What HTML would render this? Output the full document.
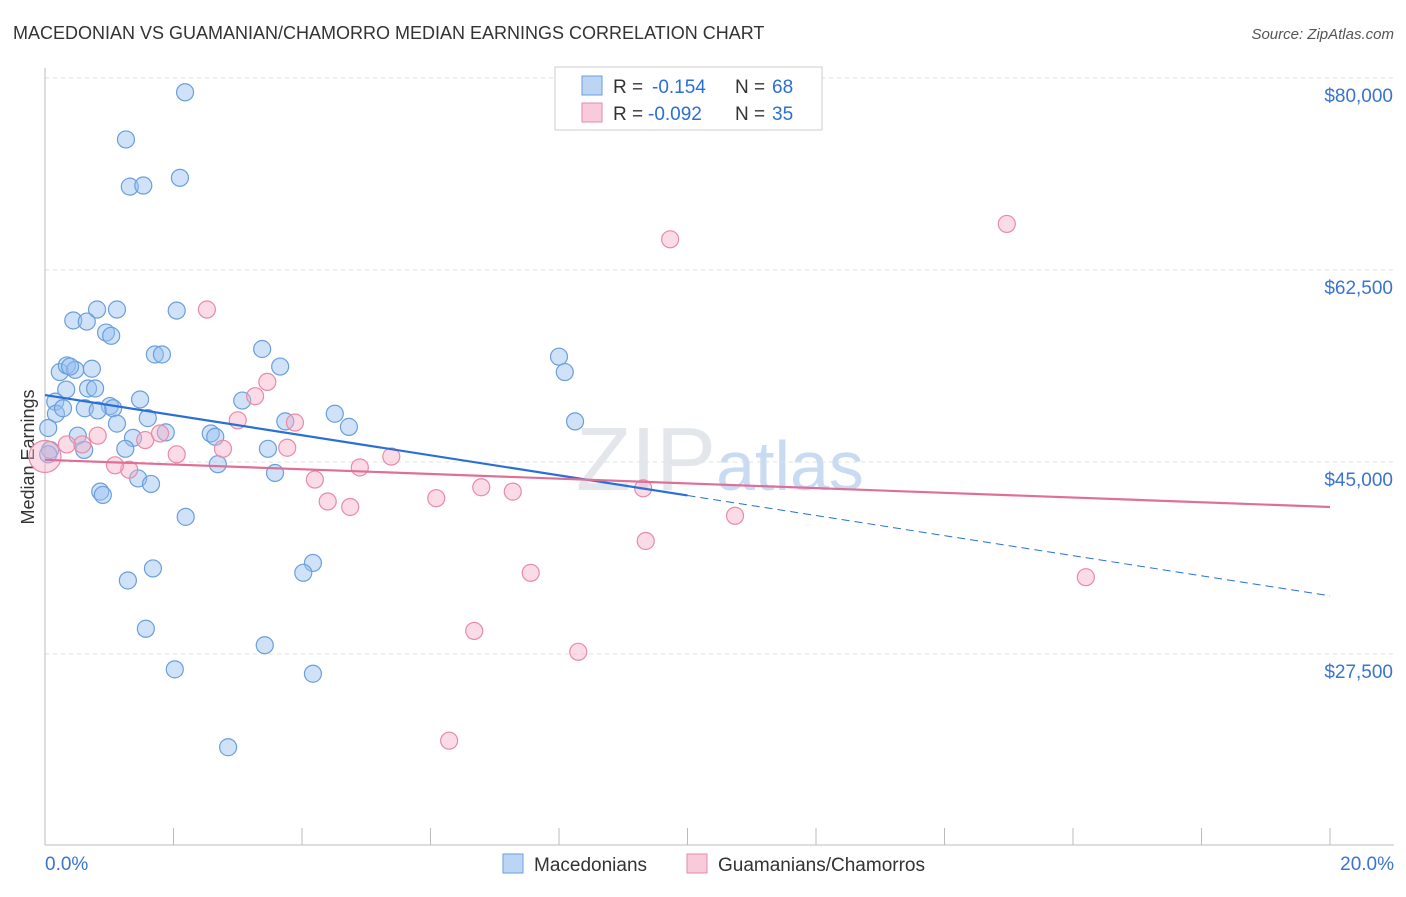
<!DOCTYPE html>
<html><head><meta charset="utf-8"><style>
body{margin:0;background:#fff;font-family:"Liberation Sans",sans-serif;}
svg text{font-family:"Liberation Sans",sans-serif;}
</style></head><body>
<svg id="chart" width="1406" height="892" xmlns="http://www.w3.org/2000/svg">
<text x="13" y="39" font-size="18" fill="#333">MACEDONIAN VS GUAMANIAN/CHAMORRO MEDIAN EARNINGS CORRELATION CHART</text>
<text x="1394" y="39" font-size="15" fill="#555" text-anchor="end" font-style="italic">Source: ZipAtlas.com</text>
<text transform="translate(34,457) rotate(-90)" font-size="18" fill="#333" text-anchor="middle">Median Earnings</text>
<text x="720" y="490" font-size="90" fill="#e3e6ea" text-anchor="middle" font-family="Liberation Serif">ZIP<tspan fill="#c9dbf2" font-family="Liberation Sans" font-size="70">atlas</tspan></text>
<g id="grid"></g><g id="axes"></g><g id="pts"></g><g id="lines"></g>
<g>
<rect x="555" y="67" width="267" height="63" fill="#fff" stroke="#ccc"/>
<rect x="582" y="76" width="20" height="19" fill="#bcd5f5" stroke="#6a9fdc"/>
<text x="613" y="93" font-size="19" fill="#333">R =</text>
<text x="652" y="93" font-size="19" fill="#2a6fd6">-0.154</text>
<text x="735" y="93" font-size="19" fill="#333">N =</text>
<text x="772" y="93" font-size="19" fill="#2a6fd6">68</text>
<rect x="582" y="103" width="20" height="19" fill="#f9cad9" stroke="#e88aa8"/>
<text x="613" y="120" font-size="19" fill="#333">R =</text>
<text x="648" y="120" font-size="19" fill="#2a6fd6">-0.092</text>
<text x="735" y="120" font-size="19" fill="#333">N =</text>
<text x="772" y="120" font-size="19" fill="#2a6fd6">35</text>
</g>
<g>
<rect x="503" y="854" width="20" height="19" fill="#bcd5f5" stroke="#6a9fdc"/>
<text x="534" y="871" font-size="19" fill="#333">Macedonians</text>
<rect x="687" y="854" width="20" height="19" fill="#f9cad9" stroke="#e88aa8"/>
<text x="718" y="871" font-size="19" fill="#333">Guamanians/Chamorros</text>
</g>
</svg>
<script>
const yTicks=[27500,45000,62500,80000];
const yTickLabels=["$27,500","$45,000","$62,500","$80,000"];
const xTickLabels=["0.0%","20.0%"];
const blueX=[2.18,1.26,1.32,1.53,2.10,0.81,1.12,2.05,0.44,0.65,0.95,1.03,1.71,1.82,3.38,3.66,8.00,8.09,0.23,0.34,0.47,0.73,0.33,0.67,0.78,1.48,3.07,0.16,0.17,0.62,1.01,1.06,1.60,3.74,4.51,4.73,1.12,0.05,0.51,1.37,1.88,2.58,2.65,3.47,1.25,0.61,0.08,2.69,3.58,1.45,1.65,0.86,0.90,2.19,1.68,4.17,4.02,1.29,1.57,3.42,2.02,4.17,2.85,8.25,0.05,0.39,0.28,0.82];
const blueY=[78700,74400,70100,70200,70900,58900,58900,58800,57900,57800,56800,56500,54800,54800,55300,53700,54600,53200,53200,53800,53400,53500,51600,51700,51700,50700,50600,50500,49400,49900,50100,49900,49000,48700,49400,48200,48500,48100,47400,47200,47700,47600,47300,46200,46200,46100,46100,44800,44000,43500,43000,42300,42000,40000,35300,35800,34900,34200,29800,28300,26100,25700,19000,48700,45700,53700,49900,49700];
const pinkX=[0,0.58,0.82,0.34,1.31,1.09,1.56,1.79,2.05,2.52,2.77,3.00,3.27,3.46,3.77,3.89,4.20,4.40,4.75,4.90,5.39,6.09,6.79,7.28,7.56,6.68,8.30,6.29,9.31,9.35,9.73,10.74,14.97,16.20];
const pinkY=[45500,46600,47400,46600,44300,44700,47000,47600,45700,58900,46200,48800,51000,52300,46300,48600,43400,41400,40900,44500,45500,41700,42700,42300,34900,29600,27700,19600,42600,37800,65300,40100,66700,34500];
const blueTrend=[51100,32800];
const pinkTrend=[45200,40900];
const NS="http://www.w3.org/2000/svg";
const X=v=>45+v*64.25;
const Y=v=>462-(v-45000)*0.010971;
function mk(tag,attrs,parent){const e=document.createElementNS(NS,tag);for(const k in attrs)e.setAttribute(k,attrs[k]);document.getElementById(parent).appendChild(e);return e;}
yTicks.forEach((t,i)=>{
 const g=mk('line',{x1:45,x2:1394,y1:Y(t),y2:Y(t),stroke:'#e2e2e2','stroke-dasharray':'4,4'},'grid');
 
 
 const l=mk('text',{x:1393,y:Y(t)+24,'font-size':19,fill:'#3a74d0','text-anchor':'end'},'axes');
 l.textContent=yTickLabels[i];
 
 
});
const ax=mk('line',{x1:45,x2:45,y1:68,y2:845,stroke:'#bbb'},'axes');


const bx=mk('line',{x1:45,x2:1394,y1:845,y2:845,stroke:'#bbb'},'axes');


for(let i=0;i<=10;i++){
 const t=mk('line',{x1:X(i*2),x2:X(i*2),y1:828,y2:845,stroke:'#bbb'},'axes');
 
 
}
[[0,'start',45],[20,'end',1394]].forEach((d,i)=>{
 const l=mk('text',{x:d[2],y:870,'font-size':19,fill:'#3a74d0','text-anchor':d[1]},'axes');
 l.textContent=xTickLabels[i];
 
 
});
blueX.forEach((x,i)=>{
 const c=mk('circle',{cx:X(x),cy:Y(blueY[i]),r:8.5,fill:'rgba(150,190,240,0.45)',stroke:'#6a9fdc','stroke-width':1.2},'pts');
 
 
});
pinkX.forEach((x,i)=>{
 const c=mk('circle',{cx:X(x),cy:Y(pinkY[i]),r:i==0?16:8.5,fill:'rgba(245,175,200,0.45)',stroke:'#e88aa8','stroke-width':1.2},'pts');
 
 
});
const bm=blueTrend[0]+(blueTrend[1]-blueTrend[0])*0.5;
const b1=mk('line',{x1:X(0),y1:Y(blueTrend[0]),x2:X(10),y2:Y(bm),stroke:'#2a6fd6','stroke-width':2.2},'lines');


const b2=mk('line',{x1:X(10),y1:Y(bm),x2:X(20),y2:Y(blueTrend[1]),stroke:'#2a6fd6','stroke-width':1,'stroke-dasharray':'8,5'},'lines');


const p1=mk('line',{x1:X(0),y1:Y(pinkTrend[0]),x2:X(20),y2:Y(pinkTrend[1]),stroke:'#e06f98','stroke-width':2.2},'lines');


</script>
</body></html>
